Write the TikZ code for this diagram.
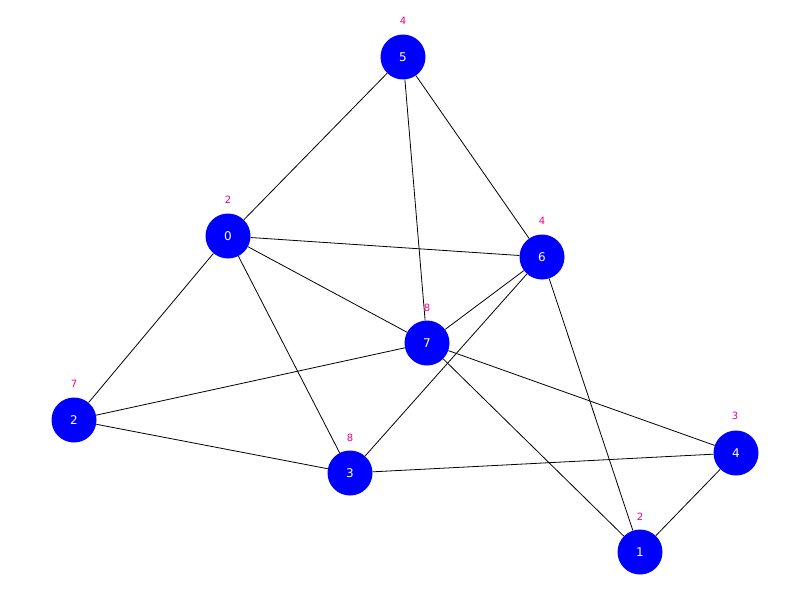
\documentclass[tikz,border=0pt]{standalone}
\usepackage{fontspec}
\setmainfont{DejaVu Sans}
\begin{document}
\begin{tikzpicture}[x=1pt,y=-1pt,
  vtx/.style={circle,fill=blue,minimum size=45pt,inner sep=0pt,text=white,font=\fontsize{12}{14}\selectfont},
  lab/.style={text=magenta,font=\fontsize{10}{12}\selectfont},
  edge/.style={draw=black,line width=0.8pt}]
\useasboundingbox (0,0) rectangle (810,610);
\node[vtx] (n0) at (228,236) {0};
\node[vtx] (n1) at (640,552) {1};
\node[vtx] (n2) at (74,420) {2};
\node[vtx] (n3) at (350,473) {3};
\node[vtx] (n4) at (736,453) {4};
\node[vtx] (n5) at (403,57) {5};
\node[vtx] (n6) at (542,257) {6};
\node[vtx] (n7) at (427,343) {7};
\begin{scope}[on background layer/.style={}]
\end{scope}
\foreach \a/\b in {5/0,5/7,5/6,0/6,0/7,0/2,0/3,6/7,6/3,6/1,7/2,7/4,7/1,2/3,3/4,4/1}
  \draw[edge] (n\a) -- (n\b);
\node[lab] (l0) at (228,200) {2};
\node[lab] (l1) at (640,517) {2};
\node[lab] (l2) at (74,384) {7};
\node[lab] (l3) at (350,438) {8};
\node[lab] (l4) at (735,416) {3};
\node[lab] (l5) at (403,21) {4};
\node[lab] (l6) at (542,221) {4};
\node[lab] (l7) at (427,308) {8};
\end{tikzpicture}
\end{document}
